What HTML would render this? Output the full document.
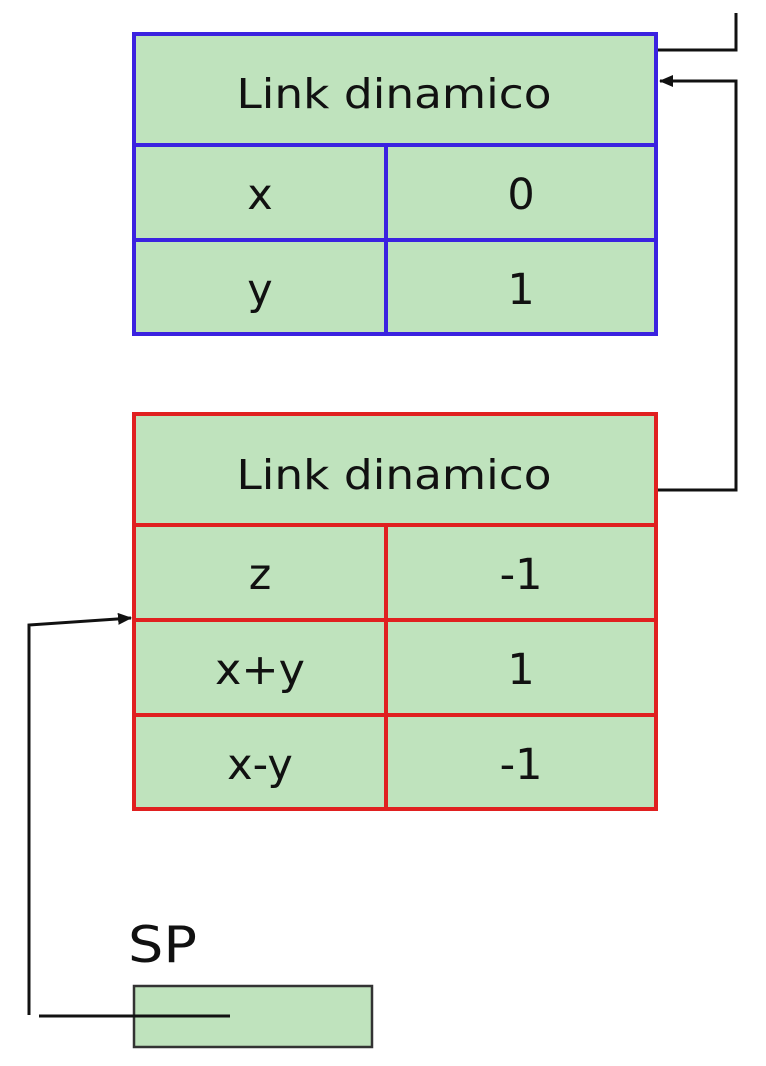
<!DOCTYPE html>
<html><head><meta charset="utf-8"><style>
html,body{margin:0;padding:0;background:#fff;width:766px;height:1066px;overflow:hidden}
text{font-family:"DejaVu Sans","Liberation Sans",sans-serif;fill:#111}
</style></head><body>
<svg width="766" height="1066" viewBox="0 0 766 1066">
<defs><marker id="ah" markerWidth="14" markerHeight="12" refX="13" refY="6" orient="auto" markerUnits="userSpaceOnUse"><path d="M0,0 L14,6 L0,12 z" fill="#111"/></marker></defs>
<g>
<rect x="134" y="34" width="522" height="300" fill="#bfe3bd" stroke="#3b22e0" stroke-width="4"/>
<line x1="134" y1="145" x2="656" y2="145" stroke="#3b22e0" stroke-width="4"/>
<line x1="134" y1="240" x2="656" y2="240" stroke="#3b22e0" stroke-width="4"/>
<line x1="386" y1="145" x2="386" y2="334" stroke="#3b22e0" stroke-width="4"/>
<text x="394" y="108" font-size="41" text-anchor="middle" textLength="315" lengthAdjust="spacingAndGlyphs">Link dinamico</text>
<text x="260" y="209" font-size="43" text-anchor="middle">x</text>
<text x="521" y="209" font-size="43" text-anchor="middle">0</text>
<text x="260" y="304" font-size="43" text-anchor="middle">y</text>
<text x="521" y="304" font-size="43" text-anchor="middle">1</text>
</g>
<g>
<rect x="134" y="414" width="522" height="395" fill="#bfe3bd" stroke="#e02020" stroke-width="4"/>
<line x1="134" y1="525" x2="656" y2="525" stroke="#e02020" stroke-width="4"/>
<line x1="134" y1="620" x2="656" y2="620" stroke="#e02020" stroke-width="4"/>
<line x1="134" y1="715" x2="656" y2="715" stroke="#e02020" stroke-width="4"/>
<line x1="386" y1="525" x2="386" y2="809" stroke="#e02020" stroke-width="4"/>
<text x="394" y="489" font-size="41" text-anchor="middle" textLength="315" lengthAdjust="spacingAndGlyphs">Link dinamico</text>
<text x="260" y="589" font-size="43" text-anchor="middle">z</text>
<text x="521" y="589" font-size="43" text-anchor="middle">-1</text>
<text x="260" y="684" font-size="43" text-anchor="middle" textLength="90" lengthAdjust="spacingAndGlyphs">x+y</text>
<text x="521" y="684" font-size="43" text-anchor="middle">1</text>
<text x="260" y="779" font-size="43" text-anchor="middle">x-y</text>
<text x="521" y="779" font-size="43" text-anchor="middle">-1</text>
</g>
<g fill="none" stroke="#111" stroke-width="3">
<polyline points="736,13 736,50 658,50"/>
<polyline points="658,490 736,490 736,81 660,81" marker-end="url(#ah)"/>
<polyline points="29,1015 29,625 131,618" marker-end="url(#ah)"/>
</g>
<text x="128" y="962" font-size="50" textLength="69" lengthAdjust="spacingAndGlyphs">SP</text>
<rect x="134" y="986" width="238" height="61" fill="#bfe3bd" stroke="#333" stroke-width="2.5"/>
<line x1="39" y1="1016" x2="230" y2="1016" stroke="#111" stroke-width="3"/>
</svg>
</body></html>
